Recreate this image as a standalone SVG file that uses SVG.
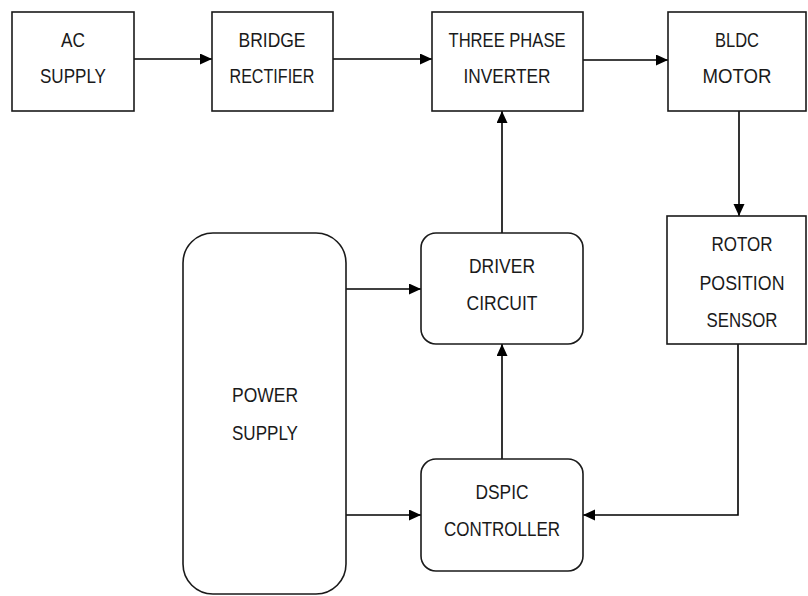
<svg xmlns="http://www.w3.org/2000/svg" width="808" height="596" viewBox="0 0 808 596">
<style>
.box{fill:#fff;stroke:#1a1a1a;stroke-width:1.6}
.t{font-family:"Liberation Sans",Arial,sans-serif;font-size:21px;fill:#1a1a1a;text-anchor:middle}
.c{fill:none;stroke:#000;stroke-width:1.6;marker-end:url(#ah)}
</style>
<defs>
<marker id="ah" markerWidth="13" markerHeight="12" refX="12" refY="5.5" orient="auto" markerUnits="userSpaceOnUse">
<path d="M0,0 L12,5.5 L0,11 Z" fill="#000"/>
</marker>
</defs>
<rect width="808" height="596" fill="#fff"/>
<g id="connectors">
<path class="c" d="M134,59 H212"/>
<path class="c" d="M333,59 H432"/>
<path class="c" d="M583,60 H668"/>
<path class="c" d="M739,111 V216"/>
<path class="c" d="M738,344 V515 H583"/>
<path class="c" d="M346,289 H421"/>
<path class="c" d="M346,515 H421"/>
<path class="c" d="M502,459 V344"/>
<path class="c" d="M502,233 V111"/>
</g>
<g id="ac-supply">
<rect class="box" x="12" y="12" width="122" height="99"/>
<text class="t" x="73" y="47" textLength="24" lengthAdjust="spacingAndGlyphs">AC</text>
<text class="t" x="73" y="83" textLength="66" lengthAdjust="spacingAndGlyphs">SUPPLY</text>
</g>
<g id="bridge-rectifier">
<rect class="box" x="212" y="12" width="121" height="99"/>
<text class="t" x="272" y="47" textLength="67" lengthAdjust="spacingAndGlyphs">BRIDGE</text>
<text class="t" x="272" y="83" textLength="85" lengthAdjust="spacingAndGlyphs">RECTIFIER</text>
</g>
<g id="three-phase-inverter">
<rect class="box" x="432" y="12" width="151" height="99"/>
<text class="t" x="507" y="47" textLength="117" lengthAdjust="spacingAndGlyphs">THREE PHASE</text>
<text class="t" x="507" y="83" textLength="87" lengthAdjust="spacingAndGlyphs">INVERTER</text>
</g>
<g id="bldc-motor">
<rect class="box" x="668" y="12" width="138" height="99"/>
<text class="t" x="737" y="47" textLength="44" lengthAdjust="spacingAndGlyphs">BLDC</text>
<text class="t" x="737" y="83" textLength="69" lengthAdjust="spacingAndGlyphs">MOTOR</text>
</g>
<g id="rotor-position-sensor">
<rect class="box" x="667" y="216" width="139" height="128"/>
<text class="t" x="742" y="251" textLength="61" lengthAdjust="spacingAndGlyphs">ROTOR</text>
<text class="t" x="742" y="290" textLength="85" lengthAdjust="spacingAndGlyphs">POSITION</text>
<text class="t" x="742" y="327" textLength="71" lengthAdjust="spacingAndGlyphs">SENSOR</text>
</g>
<g id="power-supply">
<rect class="box" x="183" y="233" width="163" height="361" rx="30" ry="30"/>
<text class="t" x="265" y="402" textLength="66" lengthAdjust="spacingAndGlyphs">POWER</text>
<text class="t" x="265" y="440" textLength="66" lengthAdjust="spacingAndGlyphs">SUPPLY</text>
</g>
<g id="driver-circuit">
<rect class="box" x="421" y="233" width="162" height="111" rx="15" ry="15"/>
<text class="t" x="502" y="273" textLength="66" lengthAdjust="spacingAndGlyphs">DRIVER</text>
<text class="t" x="502" y="310" textLength="71" lengthAdjust="spacingAndGlyphs">CIRCUIT</text>
</g>
<g id="dspic-controller">
<rect class="box" x="421" y="459" width="162" height="112" rx="15" ry="15"/>
<text class="t" x="502" y="499" textLength="53" lengthAdjust="spacingAndGlyphs">DSPIC</text>
<text class="t" x="502" y="536" textLength="116" lengthAdjust="spacingAndGlyphs">CONTROLLER</text>
</g>
</svg>
